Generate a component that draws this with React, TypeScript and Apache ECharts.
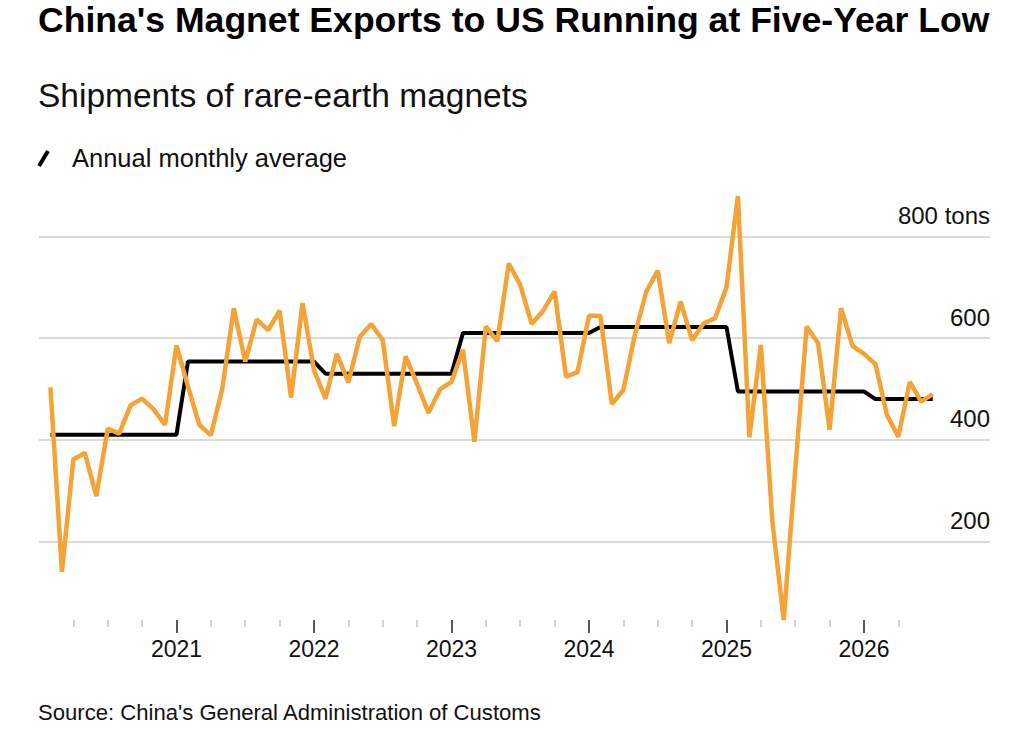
import React, { useEffect, useRef } from "react";
import * as echarts from "echarts";

const startYear = 2020;
const years = [2020, 2021, 2022, 2023, 2024, 2025, 2026];

// Monthly shipments of rare-earth magnets to the US, tons (Jan 2020 – Jun 2026)
const shipments2020 = [503, 140, 361, 374, 289, 422, 412, 468, 481, 460, 429, 586];
const shipments2021 = [505, 429, 409, 501, 659, 554, 637, 616, 654, 483, 669, 537];
const shipments2022 = [481, 569, 513, 603, 628, 596, 427, 564, 510, 453, 499, 514];
const shipments2023 = [577, 396, 623, 594, 747, 705, 628, 654, 692, 524, 533, 644];
const shipments2024 = [644, 470, 498, 606, 692, 733, 590, 672, 596, 629, 639, 700];
const shipments2025 = [880, 405, 587, 240, 45, 340, 623, 590, 420, 659, 585, 569];
const shipments2026 = [549, 449, 406, 514, 475, 490];

// Annual monthly average, tons, one per year
const annualMonthlyAverage = [410, 554, 530, 610, 622, 495, 480];

// Axis ticks in months since Jan 1 2020
const majorTicks = [12, 24, 36, 48, 60, 72];
const minorTicks = [3, 6, 9, 15, 18, 21, 27, 30, 33, 39, 42, 45, 51, 54, 57, 63, 66, 69, 75];
const yLabelValues = [200, 400, 600, 800];

const FONT = "'Liberation Sans', Arial, Helvetica, sans-serif";
const ORANGE = "#F5A236";

const shipments = [
  ...shipments2020,
  ...shipments2021,
  ...shipments2022,
  ...shipments2023,
  ...shipments2024,
  ...shipments2025,
  ...shipments2026,
];

export default function App() {
  const ref = useRef<HTMLDivElement>(null);

  useEffect(() => {
    if (!ref.current) return;
    const chart = echarts.init(ref.current, null, { renderer: "svg" });

    // each monthly value plotted at the end of its month
    const monthly = shipments.map((v, i) => [i + 1, v]);
    const avg = shipments.map((_, i) => [
      i + 1,
      annualMonthlyAverage[years.indexOf(startYear + Math.floor(i / 12))],
    ]);

    chart.setOption({
      animation: false,
      backgroundColor: "#ffffff",
      textStyle: { fontFamily: FONT },
      grid: { left: 39, right: 34, top: 196, bottom: 109 },
      xAxis: [
        {
          type: "value",
          min: 0,
          max: 83,
          axisLine: { show: false },
          splitLine: { show: false },
          axisTick: {
            show: true,
            customValues: majorTicks,
            length: 13,
            lineStyle: { color: "#222", width: 1.5 },
          },
          axisLabel: {
            customValues: majorTicks,
            formatter: (v: number) => String(startYear + v / 12),
            fontSize: 23,
            margin: 17,
            color: "#111",
            fontFamily: FONT,
          },
        },
        {
          type: "value",
          min: 0,
          max: 83,
          position: "bottom",
          axisLine: { show: false },
          splitLine: { show: false },
          axisTick: {
            show: true,
            customValues: minorTicks,
            length: 7,
            lineStyle: { color: "#c4c4c4", width: 1.5 },
          },
          axisLabel: { show: false },
        },
      ],
      yAxis: {
        type: "value",
        position: "right",
        min: "dataMin",
        max: "dataMax",
        splitNumber: 4,
        axisLine: { show: false },
        axisTick: { show: false },
        splitLine: {
          show: true,
          showMinLine: false,
          showMaxLine: false,
          lineStyle: { color: "#cfcfcf", width: 1.5 },
        },
        axisLabel: {
          inside: true,
          margin: 0,
          showMinLabel: false,
          showMaxLabel: false,
          verticalAlign: "bottom",
          lineHeight: 24,
          padding: [0, 0, 9, 0],
          fontSize: 24,
          color: "#111",
          fontFamily: FONT,
          formatter: (v: number) =>
            yLabelValues.includes(v) ? (v === 800 ? "800 tons" : String(v)) : "",
        },
      },
      series: [
        {
          name: "Annual monthly average",
          type: "line",
          data: avg,
          symbol: "none",
          lineStyle: { color: "#000", width: 4 },
          z: 2,
        },
        {
          name: "Shipments",
          type: "line",
          data: monthly,
          symbol: "none",
          lineStyle: { color: ORANGE, width: 4.5 },
          z: 3,
        },
      ],
      graphic: [
        {
          type: "text",
          x: 38,
          y: 20,
          style: {
            text: "China's Magnet Exports to US Running at Five-Year Low",
            font: `bold 35.6px ${FONT}`,
            fill: "#000",
            verticalAlign: "middle",
          },
        },
        {
          type: "text",
          x: 38,
          y: 95,
          style: {
            text: "Shipments of rare-earth magnets",
            font: `33.5px ${FONT}`,
            fill: "#111",
            verticalAlign: "middle",
          },
        },
        {
          type: "line",
          shape: { x1: 39, y1: 166, x2: 48, y2: 151 },
          style: { stroke: "#000", lineWidth: 4 },
        },
        {
          type: "text",
          x: 72,
          y: 158,
          style: {
            text: "Annual monthly average",
            font: `25.5px ${FONT}`,
            fill: "#111",
            verticalAlign: "middle",
          },
        },
        {
          type: "text",
          x: 38,
          y: 712,
          style: {
            text: "Source: China's General Administration of Customs",
            font: `22.1px ${FONT}`,
            fill: "#111",
            verticalAlign: "middle",
          },
        },
      ],
    });

    return () => chart.dispose();
  }, []);

  return (
    <div
      ref={ref}
      style={{ position: "fixed", left: 0, top: 0, width: 1024, height: 729, background: "#fff" }}
    />
  );
}
